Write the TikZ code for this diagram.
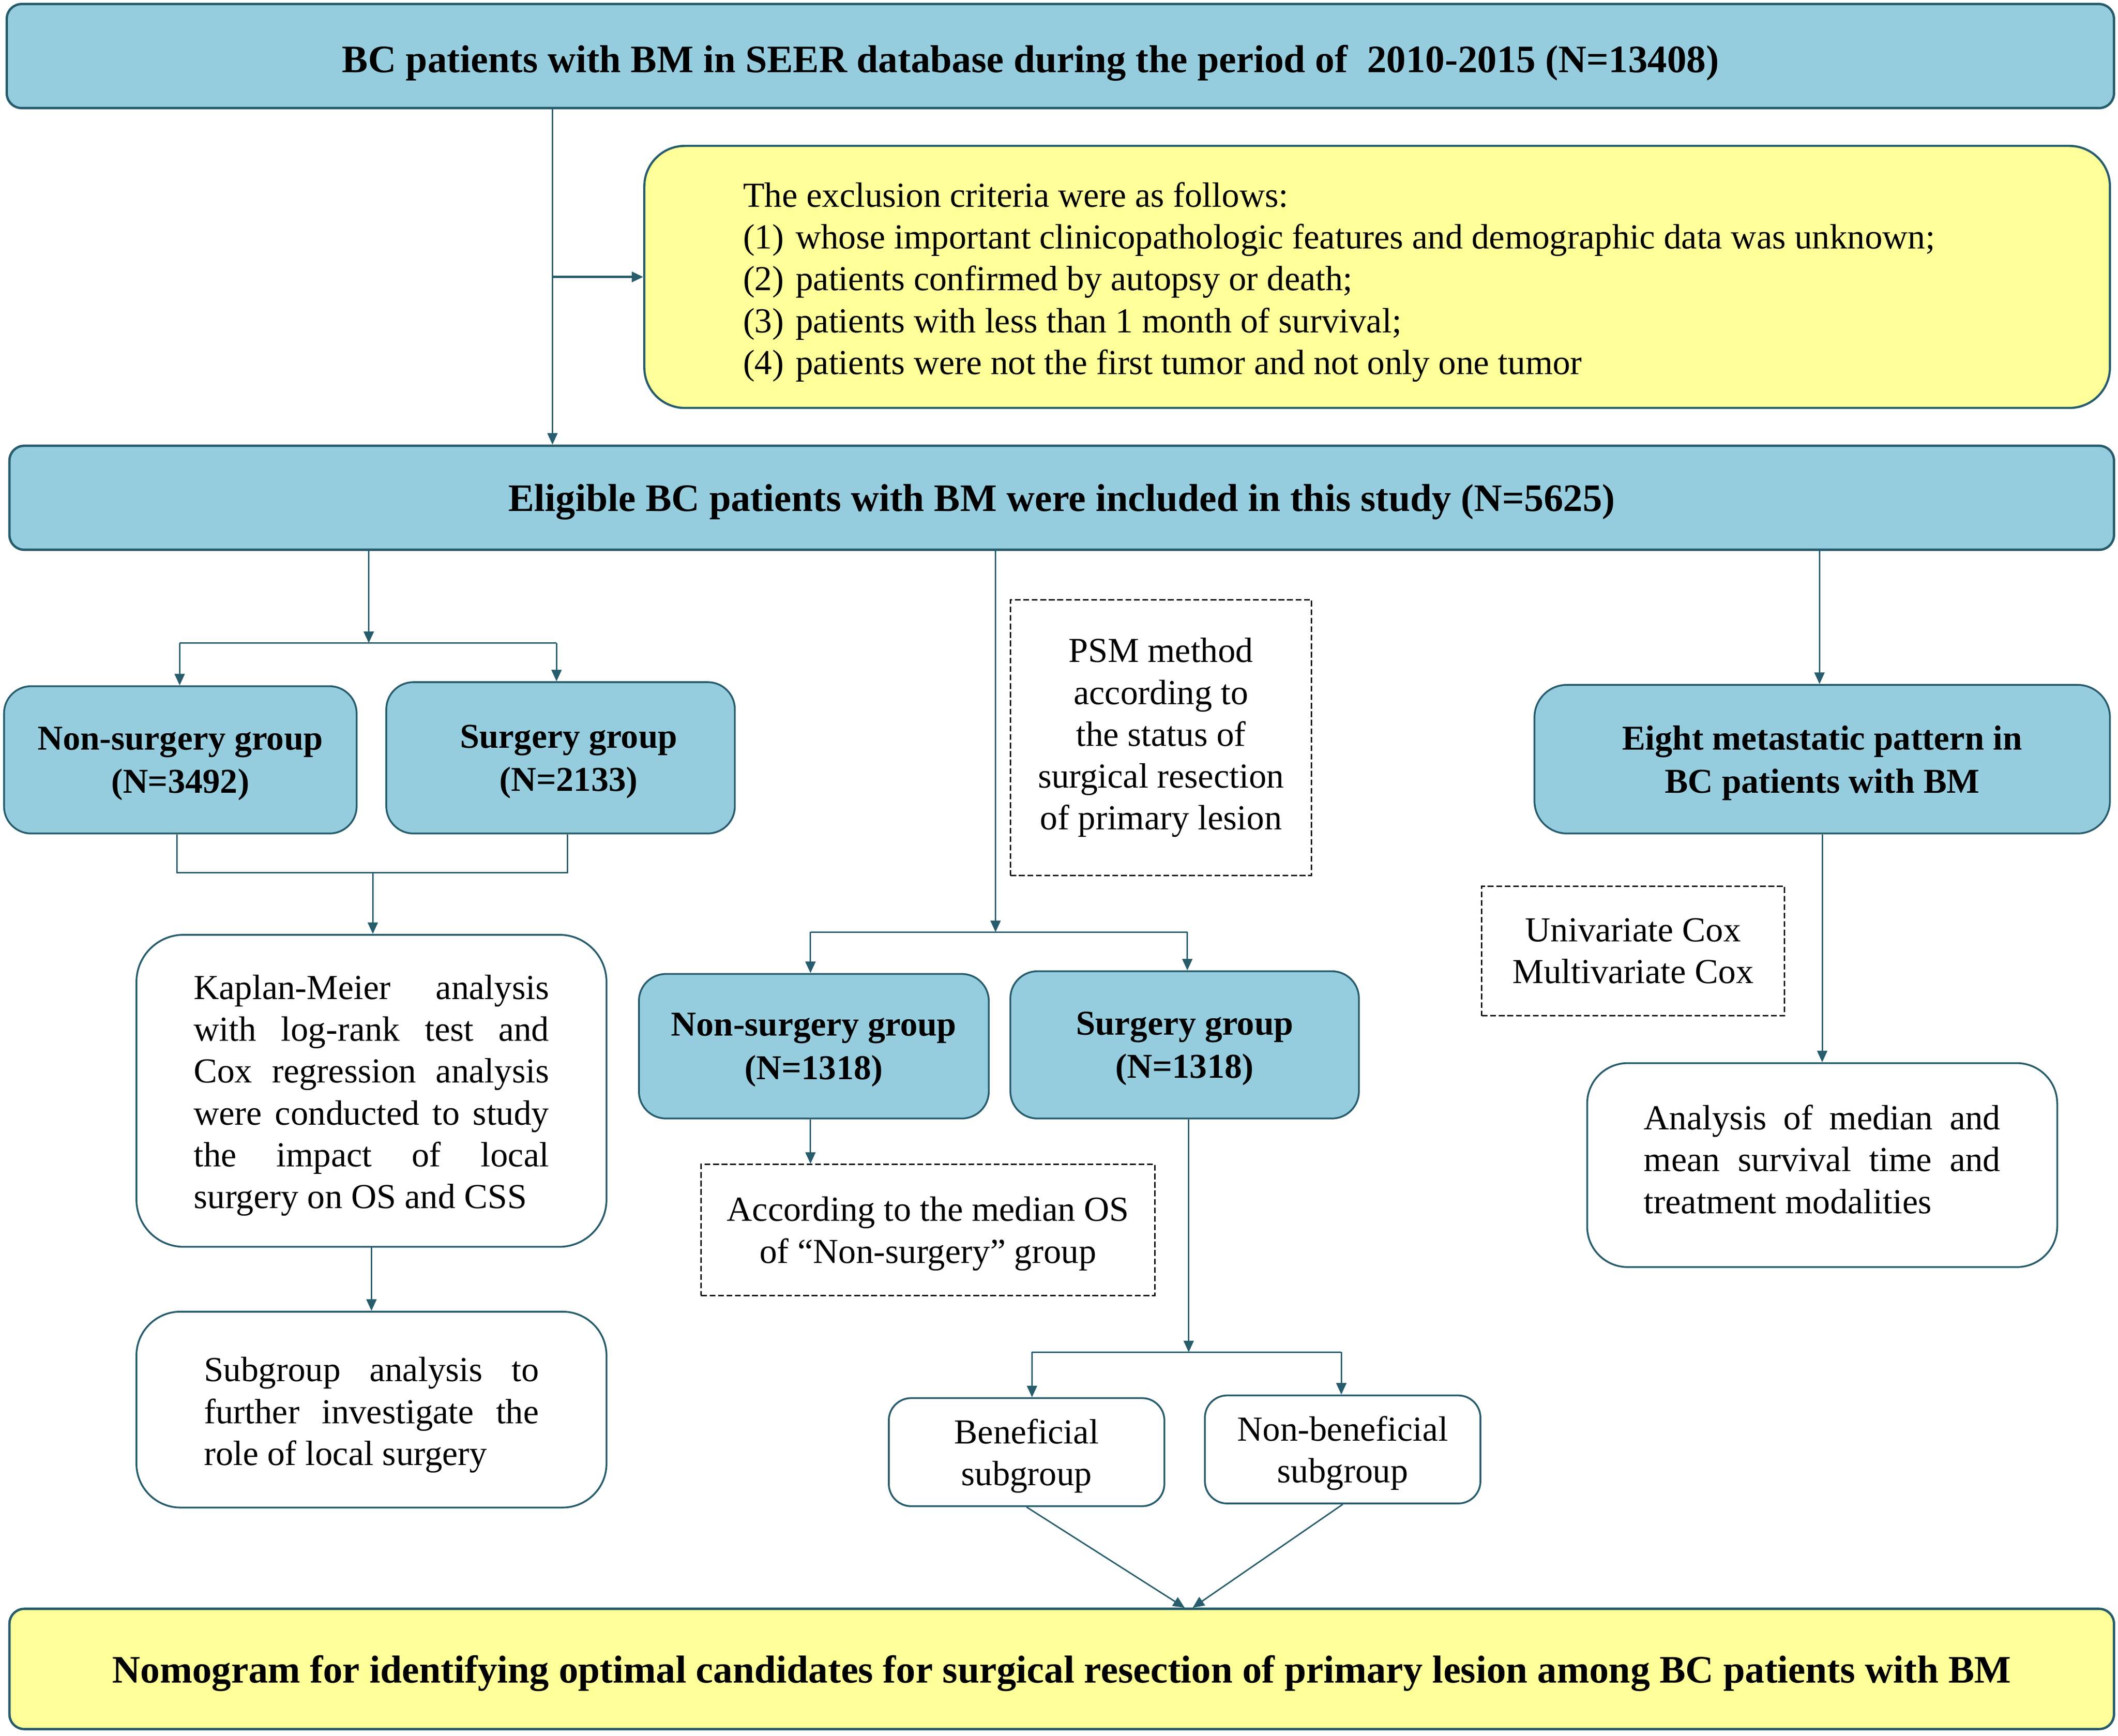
\documentclass[tikz,border=0pt]{standalone}
\usepackage{fontspec}
\setmainfont{Liberation Serif}
\usetikzlibrary{arrows.meta}
\definecolor{bord}{RGB}{38,92,108}
\definecolor{blueF}{RGB}{150,205,222}
\definecolor{yelF}{RGB}{255,255,153}
\newcommand{\jln}[2]{{\spaceskip=0pt\xspaceskip=0pt\makebox[#1][s]{#2}}}
\newcommand{\nfont}{\fontsize{14.8}{17.64}\selectfont}
\newcommand{\gfont}{\fontsize{14.7}{18.2}\selectfont\bfseries}
\newcommand{\tfont}{\fontsize{16.4}{20}\selectfont\bfseries}
\begin{document}
\begin{tikzpicture}[x=0.02cm,y=-0.02cm,
  spanbox/.style n args={4}{minimum width={(#3-#1)*0.02cm}, minimum height={(#4-#2)*0.02cm},
     at={({(#1+#3)/2},{(#2+#4)/2})}},
  base/.style={inner sep=0pt, line width=0.75pt, align=flush center},
  bluebox/.style={base, draw=bord, fill=blueF, font=\gfont, text depth=0pt},
  barbox/.style={base, draw=bord, line width=1pt, rounded corners=0.22cm, font=\tfont, text depth=0pt},
  whitebox/.style={base, draw=bord, fill=white, font=\nfont},
  dbox/.style={base, draw=black, line width=0.6pt, dash pattern=on 0.086cm off 0.04cm, font=\nfont},
  conn/.style={draw=bord, line width=0.6pt},
  arr/.style={conn, -{Triangle[length=0.17cm,width=0.15cm]}}
]
\fill[white] (0,0) rectangle (1568,1285);
\useasboundingbox (0,0) rectangle (1568,1285);

% top bar
\node[barbox, fill=blueF, spanbox={5}{3}{1565}{80}, text height=0.49cm] (top)
  {BC patients with BM in SEER database during the period of~ 2010-2015 (N=13408)\hspace*{0.88cm}};
% exclusion box
\node[base, draw=bord, line width=0.9pt, fill=yelF, rounded corners=0.6cm, font=\nfont,
      spanbox={477}{108}{1562}{302}, text width=18.78cm, align=flush left, text height=14.7pt] (excl)
  {The exclusion criteria were as follows:\\
   \makebox[1.5em][l]{(1)}whose important clinicopathologic features and demographic data was unknown;\\
   \makebox[1.5em][l]{(2)}patients confirmed by autopsy or death;\\
   \makebox[1.5em][l]{(3)}patients with less than 1 month of survival;\\
   \makebox[1.5em][l]{(4)}patients were not the first tumor and not only one tumor};
% eligible bar
\node[barbox, fill=blueF, spanbox={7}{330}{1565}{407}] (elig)
  {Eligible BC patients with BM were included in this study (N=5625)};

% left column
\node[bluebox, rounded corners=0.4cm, spanbox={3}{508}{264}{617}] (ns1) {Non-surgery group\\(N=3492)};
\node[bluebox, rounded corners=0.4cm, spanbox={286}{505}{544}{617}] (s1)
  {\hspace*{0.24cm}Surgery group\\\hspace*{0.24cm}(N=2133)};
\node[whitebox, rounded corners=0.7cm, spanbox={101}{692}{449}{923}, text width=5.26cm, align=flush left, text height=14.2pt] (km)
  {\jln{5.26cm}{Kaplan-Meier analysis}\\
   \jln{5.26cm}{with log-rank test and}\\
   \jln{5.26cm}{Cox regression analysis}\\
   \jln{5.26cm}{were conducted to study}\\
   \jln{5.26cm}{the impact of local}\\
   surgery on OS and CSS};
\node[whitebox, rounded corners=0.65cm, spanbox={101}{971}{449}{1116}, text width=4.96cm, align=flush left, text height=14.8pt] (sub)
  {\jln{4.96cm}{Subgroup analysis to}\\
   \jln{4.96cm}{further investigate the}\\
   role of local surgery};

% middle column
\node[dbox, spanbox={748}{444}{971}{648}, text depth=0.11cm] (psm)
  {PSM method\\according to\\the status of\\surgical resection\\of primary lesion};
\node[bluebox, rounded corners=0.4cm, spanbox={473}{721}{732}{828}] (ns2) {Non-surgery group\\(N=1318)};
\node[bluebox, rounded corners=0.4cm, spanbox={748}{719}{1006}{828}, text depth=-0.03cm] (s2) {Surgery group\\(N=1318)};
\node[dbox, spanbox={519}{862}{855}{959}, text depth=0pt] (acc)
  {According to the median OS\\of “Non-surgery” group};
\node[whitebox, rounded corners=0.33cm, spanbox={658}{1035}{862}{1115}, text depth=-0.08cm] (ben) {Beneficial\\subgroup};
\node[whitebox, rounded corners=0.33cm, spanbox={892}{1033}{1096}{1113}, text depth=-0.08cm] (nben) {Non-beneficial\\subgroup};

% right column
\node[bluebox, rounded corners=0.48cm, spanbox={1136}{507}{1562}{617}] (eight)
  {Eight metastatic pattern in\\BC patients with BM};
\node[dbox, spanbox={1097}{656}{1321}{752}, text depth=-0.16cm] (cox) {Univariate Cox\\Multivariate Cox};
\node[whitebox, rounded corners=0.6cm, spanbox={1175}{787}{1523}{938}, text width=5.28cm, align=flush left, text height=5.5pt] (ana)
  {\jln{5.28cm}{Analysis of median and}\\
   \jln{5.28cm}{mean survival time and}\\
   treatment modalities};

% bottom bar
\node[barbox, fill=yelF, spanbox={7}{1191}{1565}{1280}] (nomo)
  {Nomogram for identifying optimal candidates for surgical resection of primary lesion among BC patients with BM};

% connectors: top
\coordinate (c1) at (409,0);
\draw[arr] (c1 |- top.south) -- (c1 |- elig.north);
\draw[arr, line width=1pt] (c1 |- excl.west) -- (excl.west);

% left branch
\coordinate (cL) at (273,476);
\coordinate (jLa) at (133,476);
\coordinate (jLb) at (412,476);
\draw[arr] (cL |- elig.south) -- (cL);
\draw[conn] (jLa) -- (jLb);
\draw[arr] (jLa) -- (jLa |- ns1.north);
\draw[arr] (jLb) -- (jLb |- s1.north);
\coordinate (mA) at (131,646);
\coordinate (mB) at (420,646);
\coordinate (mC) at (276,646);
\draw[conn] (mA |- ns1.south) -- (mA) -- (mB) -- (mB |- s1.south);
\draw[arr] (mC) -- (mC |- km.north);
\draw[arr] (km.south) -- (sub.north);

% middle branch
\coordinate (cM) at (737,690);
\coordinate (jMa) at (600,690);
\coordinate (jMb) at (879,690);
\draw[arr] (cM |- elig.south) -- (cM);
\draw[conn] (jMa) -- (jMb);
\draw[arr] (jMa) -- (jMa |- ns2.north);
\draw[arr] (jMb) -- (jMb |- s2.north);
\coordinate (cN) at (600,0);
\draw[arr] (cN |- ns2.south) -- (cN |- acc.north);
\coordinate (cS) at (880,1001);
\coordinate (jSa) at (764,1001);
\coordinate (jSb) at (993,1001);
\draw[arr] (cS |- s2.south) -- (cS);
\draw[conn] (jSa) -- (jSb);
\draw[arr] (jSa) -- (jSa |- ben.north);
\draw[arr] (jSb) -- (jSb |- nben.north);
\coordinate (nA) at (877,0);
\coordinate (nB) at (883,0);
\draw[arr] (ben.south) -- (nA |- nomo.north);
\draw[arr] (nben.south) -- (nB |- nomo.north);

% right branch
\coordinate (cR) at (1347,0);
\draw[arr] (cR |- elig.south) -- (cR |- eight.north);
\draw[arr] (eight.south) -- (ana.north);
\end{tikzpicture}
\end{document}
